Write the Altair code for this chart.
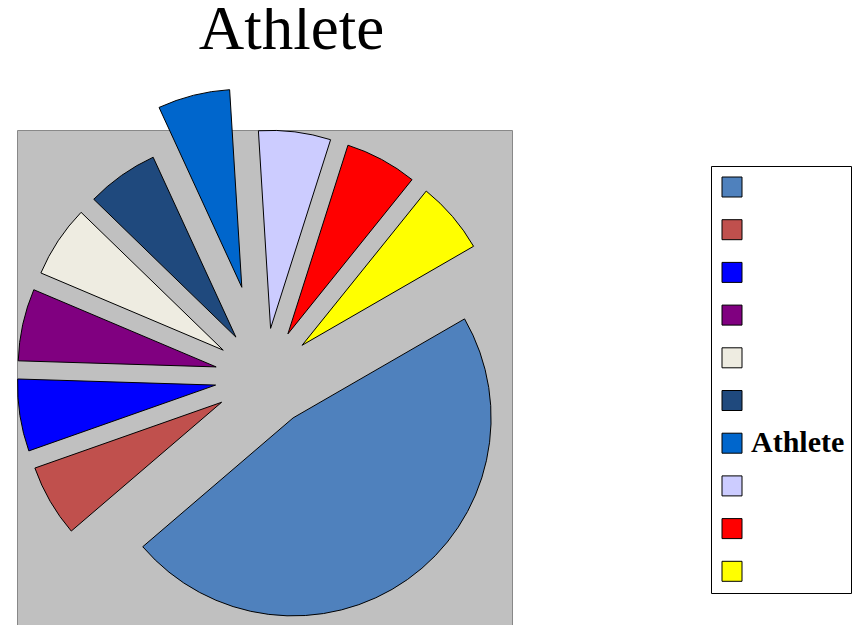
import altair as alt
import pandas as pd
import math

# ---- data ----
categories = ["s1", "s2", "s3", "s4", "s5", "s6", "Athlete", "s8", "s9", "s10"]
values = [8, 1, 1, 1, 1, 1, 1, 1, 1, 1]
colors = ["#4f81bd", "#c0504d", "#0000ff", "#800080", "#eeece1",
          "#1f497d", "#0066cc", "#ccccff", "#ff0000", "#ffff00"]
title_text = "Athlete"
highlight = "Athlete"

df = pd.DataFrame({"category": categories, "value": values,
                   "idx": list(range(len(categories)))})

START = math.radians(60)        # start angle of first slice (clockwise from 12 o'clock)
RADIUS = 198
EXPLODE = 49.5
EXPLODE_HL = 93

pie = alt.Chart(df).transform_joinaggregate(
    total="sum(value)"
).transform_window(
    cum="sum(value)", sort=[alt.SortField("idx")], frame=[None, 0]
).transform_calculate(
    mid=f"{START} + 2*PI*(datum.cum - datum.value/2)/datum.total",
    ex=f"datum.category == '{highlight}' ? {EXPLODE_HL} : {EXPLODE}",
).transform_calculate(
    px="width/2 + datum.ex*sin(datum.mid)",
    py="height/2 - datum.ex*cos(datum.mid)",
).mark_arc(radius=RADIUS, stroke="black", strokeWidth=1).encode(
    theta=alt.Theta("value:Q", stack=True,
                    scale=alt.Scale(range=[START, START + 2 * math.pi])),
    order=alt.Order("idx:Q"),
    x=alt.X("px:Q", scale=None),
    y=alt.Y("py:Q", scale=None),
    color=alt.Color(
        "category:N",
        sort=categories,
        scale=alt.Scale(domain=categories, range=colors),
        legend=alt.Legend(
            title=None, orient="none", legendX=694, legendY=36,
            symbolType="square", symbolSize=400,
            symbolStrokeColor="black", symbolStrokeWidth=1,
            labelFont="Liberation Serif", labelFontSize=30,
            labelFontWeight="bold", labelColor="black",
            labelExpr=f"datum.label == '{highlight}' ? '{highlight}' : ''",
            labelOffset=4, rowPadding=12.7, padding=6,
            fillColor="white", strokeColor="black",
        ),
    ),
)

chart = pie.properties(
    width=495, height=495,
    autosize=alt.AutoSizeParams(type="none"),
    padding={"left": 9, "top": 122, "right": 340, "bottom": 0},
    title=alt.TitleParams(
        title_text, font="Liberation Serif", fontSize=63,
        fontWeight="normal", color="black", anchor="middle",
        frame="group", baseline="alphabetic", offset=-24, dx=27,
    ),
).configure_view(fill="#c0c0c0", stroke="#888888", strokeWidth=1)

chart.save("out.html", embed_options={"renderer": "svg", "actions": False})
